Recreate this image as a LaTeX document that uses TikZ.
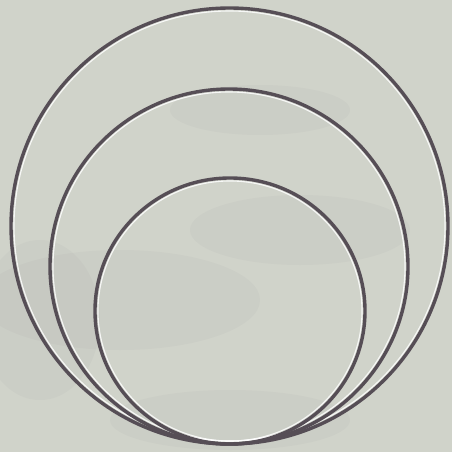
\documentclass[tikz,border=0pt]{standalone}
\definecolor{paper}{RGB}{208,211,202}
\definecolor{smudge}{RGB}{165,162,165}
\definecolor{hoop}{RGB}{86,78,86}
\begin{document}
\begin{tikzpicture}[
    x=1pt, y=-1pt,
    hoop/.style={draw=hoop, line width=3.4pt},
    shine/.style={draw=white, line width=1.1pt, opacity=0.85},
    smear/.style={fill=smudge, opacity=0.1}
]
  % background
  \useasboundingbox (0,0) rectangle (452,452);
  \clip (0,0) rectangle (452,452);
  \fill[paper] (0,0) rectangle (452,452);
  \fill[smear] (120,300) ellipse [x radius=140, y radius=50];
  \fill[smear] (300,230) ellipse [x radius=110, y radius=35];
  \fill[smear] (40,320) ellipse [x radius=60, y radius=80];
  \fill[smear] (260,110) ellipse [x radius=90, y radius=25];
  \fill[smear] (230,420) ellipse [x radius=120, y radius=30];

  % hoops: outer, middle, inner
  \draw[shine] (229.5,226) ellipse [x radius=215.5, y radius=215];
  \draw[hoop]  (229.5,226) ellipse [x radius=218.5, y radius=218];
  \draw[shine] (229,266.5) ellipse [x radius=176, y radius=174.5];
  \draw[hoop]  (229,266.5) ellipse [x radius=179, y radius=177.5];
  \draw[shine] (230,311)   ellipse [x radius=132, y radius=130];
  \draw[hoop]  (230,311)   ellipse [x radius=135, y radius=133];
\end{tikzpicture}
\end{document}
